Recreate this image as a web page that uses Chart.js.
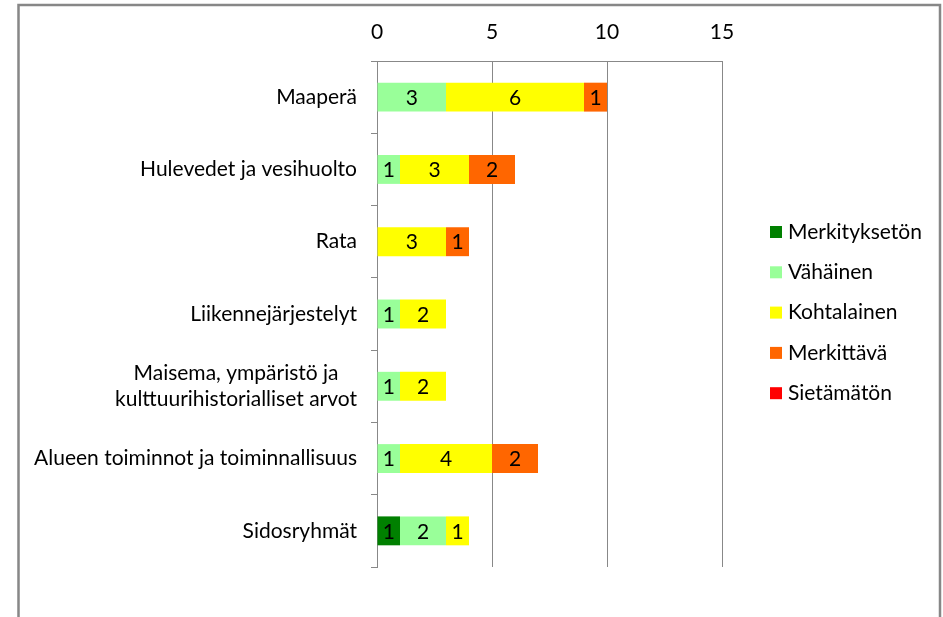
<!DOCTYPE html>
<html><head><meta charset="utf-8">
<script src="https://cdn.jsdelivr.net/npm/chart.js@4"></script>
<style>html,body{margin:0;padding:0;background:#fff}#wrap{width:943px;height:617px}</style>
</head><body><div id="wrap"><canvas id="c" width="943" height="617"></canvas></div>
<script>
const categories = [
  ["Maaperä"],
  ["Hulevedet ja vesihuolto"],
  ["Rata"],
  ["Liikennejärjestelyt"],
  ["Maisema, ympäristö ja", "kulttuurihistorialliset arvot"],
  ["Alueen toiminnot ja toiminnallisuus"],
  ["Sidosryhmät"]
];
const seriesNames = ["Merkityksetön", "Vähäinen", "Kohtalainen", "Merkittävä", "Sietämätön"];
const merkitykseton = [0, 0, 0, 0, 0, 0, 1];
const vahainen      = [3, 1, 0, 1, 1, 1, 2];
const kohtalainen   = [6, 3, 3, 2, 2, 4, 1];
const merkittava    = [1, 2, 1, 0, 0, 2, 0];
const sietamaton    = [0, 0, 0, 0, 0, 0, 0];
const xTicks = [0, 5, 10, 15];
const colors = ["#008000", "#99FF99", "#FFFF00", "#FF6600", "#FF0000"];

const FONT = "Lato, 'Open Sans', sans-serif";
const FS = 21;
const seriesValues = [merkitykseton, vahainen, kohtalainen, merkittava, sietamaton];

const framePlugin = {
  id: 'frame',
  beforeDraw(chart) {
    const ctx = chart.ctx;
    ctx.save();
    ctx.fillStyle = '#fff';
    ctx.fillRect(0, 0, chart.width, chart.height);
    ctx.strokeStyle = '#878787';
    ctx.lineWidth = 2.5;
    ctx.strokeRect(18.5, 5, 921.5, 640);
    ctx.restore();
  }
};

const yLabelPlugin = {
  id: 'ylabels',
  afterDraw(chart) {
    const ctx = chart.ctx, ys = chart.scales.y;
    const right = chart.chartArea.left - 20;
    ctx.save();
    ctx.font = FS + "px " + FONT;
    ctx.fillStyle = '#000';
    ctx.textAlign = 'center';
    ctx.textBaseline = 'middle';
    categories.forEach((lines, i) => {
      const py = ys.getPixelForValue(i);
      const maxW = Math.max(...lines.map(l => ctx.measureText(l).width));
      const cx = right - maxW / 2;
      const lh = 26;
      lines.forEach((l, j) => {
        ctx.fillText(l, cx, py + (j - (lines.length - 1) / 2) * lh);
      });
    });
    ctx.restore();
  }
};

const dataLabelPlugin = {
  id: 'dlabels',
  afterDatasetsDraw(chart) {
    const ctx = chart.ctx;
    ctx.save();
    ctx.font = FS + "px " + FONT;
    ctx.fillStyle = '#000';
    ctx.textAlign = 'center';
    ctx.textBaseline = 'middle';
    chart.data.datasets.forEach((ds, di) => {
      const meta = chart.getDatasetMeta(di);
      meta.data.forEach((el, i) => {
        const v = ds.data[i];
        if (!v) return;
        const p = el.getCenterPoint();
        ctx.fillText(String(v), p.x, p.y + 1);
      });
    });
    ctx.restore();
  }
};

const legendPlugin = {
  id: 'customLegend',
  afterDraw(chart) {
    const ctx = chart.ctx;
    ctx.save();
    ctx.font = FS + "px " + FONT;
    ctx.textAlign = 'left';
    ctx.textBaseline = 'middle';
    chart.data.datasets.forEach((ds, i) => {
      const cy = 232 + i * 40.3;
      ctx.fillStyle = ds.backgroundColor;
      ctx.fillRect(770, cy - 6, 12, 12);
      ctx.fillStyle = '#000';
      ctx.fillText(ds.label, 788, cy);
    });
    ctx.restore();
  }
};

new Chart(document.getElementById('c'), {
  type: 'bar',
  data: {
    labels: categories,
    datasets: seriesNames.map((n, i) => ({
      label: n,
      data: seriesValues[i],
      backgroundColor: colors[i],
      borderWidth: 0,
      categoryPercentage: 0.4,
      barPercentage: 1.0
    }))
  },
  options: {
    indexAxis: 'y',
    responsive: false,
    animation: false,
    layout: { padding: { left: 20, top: 5, right: 221, bottom: 50 } },
    plugins: { legend: { display: false }, tooltip: { enabled: false } },
    scales: {
      x: {
        position: 'top',
        stacked: true,
        min: 0, max: 15,
        afterBuildTicks(scale) { scale.ticks = xTicks.map(v => ({ value: v })); },
        ticks: { font: { size: FS, family: FONT }, color: '#000', padding: 16 },
        grid: { color: '#888', drawTicks: false, lineWidth: 1 },
        border: { color: '#888', width: 1 },
        afterFit(scale) { scale.height = 56; }
      },
      y: {
        stacked: true,
        ticks: { display: false },
        grid: { drawOnChartArea: false, drawTicks: true, tickLength: 6, color: '#888', offset: true },
        border: { color: '#888', width: 1 },
        afterFit(scale) { scale.width = 357; }
      }
    }
  },
  plugins: [framePlugin, yLabelPlugin, dataLabelPlugin, legendPlugin]
});
</script>
</body></html>
